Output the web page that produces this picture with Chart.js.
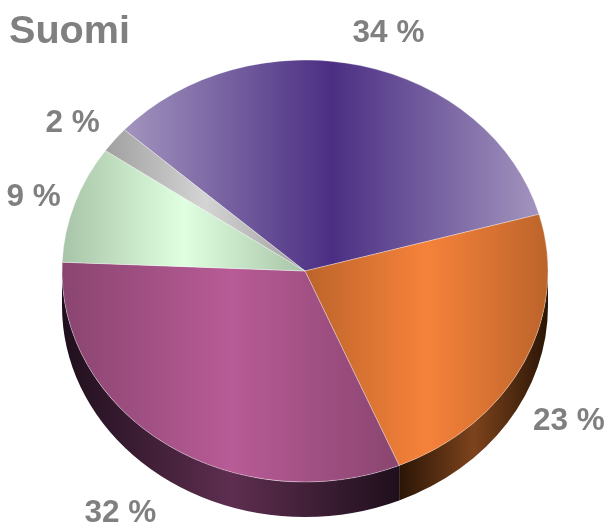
<!DOCTYPE html>
<html>
<head>
<meta charset="utf-8">
<title>Suomi</title>
<script src="https://cdn.jsdelivr.net/npm/chart.js@4"></script>
<style>
  html, body { margin: 0; padding: 0; background: white; }
  canvas { display: block; }
</style>
</head>
<body>
<canvas id="pie" width="608" height="524"></canvas>
<script>
const title_text = "Suomi"
const slices = ["Violetti", "Oranssi", "Magenta", "Vihreä", "Harmaa"]
const percents = [34, 23, 32, 9, 2]

const top_edge = ["#a294be", "#bc642b", "#8a4570", "#a8c4a8", "#a0a0a0"]
const top_mid = ["#4b2e83", "#f6823a", "#b85b96", "#e0ffe0", "#d4d4d4"]
const wall_edge = ["#000000", "#2a1506", "#1f0f1c", "#000000", "#000000"]
const wall_mid = ["#000000", "#7d431c", "#5e2e50", "#000000", "#000000"]

// ellipse look of the tilted pie
const squash = 211 / 243
const depth = 35
const label_shift = [[28, -32], [45, 58], [-46, 69], [-41, -6], [-42, -17]]
const text_color = "#808080"

function sideGradient(ctx, x0, x1, edge, mid) {
  let g = ctx.createLinearGradient(x0, 0, x1, 0)
  g.addColorStop(0, edge)
  g.addColorStop(0.5, mid)
  g.addColorStop(1, edge)
  return g
}

function sliceXRange(arc) {
  let xs = [arc.x]
  let steps = 180
  for (let i = 0; i <= steps; i++) {
    let a = arc.startAngle + (arc.endAngle - arc.startAngle) * i / steps
    xs.push(arc.x + arc.outerRadius * Math.cos(a))
  }
  return [Math.min(...xs), Math.max(...xs)]
}

function drawWall(ctx, arc, i) {
  // only the part of the rim that faces the viewer, 0..PI on canvas angles
  let a0 = Math.max(arc.startAngle, 0)
  let a1 = Math.min(arc.endAngle, Math.PI)
  if (a1 <= a0) {
    return
  }
  let r = arc.outerRadius
  let x0 = arc.x + r * Math.cos(a0)
  let x1 = arc.x + r * Math.cos(a1)
  ctx.beginPath()
  ctx.ellipse(arc.x, arc.y, r, r * squash, 0, a0, a1)
  ctx.ellipse(arc.x, arc.y + depth, r, r * squash, 0, a1, a0, true)
  ctx.closePath()
  ctx.fillStyle = sideGradient(ctx, Math.min(x0, x1), Math.max(x0, x1), wall_edge[i], wall_mid[i])
  ctx.fill()
}

const tiltPlugin = {
  id: "tilt",
  beforeDatasetsDraw(chart) {
    let ctx = chart.ctx
    let arcs = chart.getDatasetMeta(0).data
    arcs.forEach((arc, i) => {
      drawWall(ctx, arc, i)
      let range = sliceXRange(arc)
      arc.options.backgroundColor = sideGradient(ctx, range[0], range[1], top_edge[i], top_mid[i])
    })
    let cy = arcs[0].y
    ctx.save()
    ctx.translate(0, cy)
    ctx.scale(1, squash)
    ctx.translate(0, -cy)
  },
  afterDatasetsDraw(chart) {
    let ctx = chart.ctx
    ctx.restore()
    ctx.save()
    ctx.font = "bold 31.5px 'Liberation Sans'"
    ctx.fillStyle = text_color
    ctx.textAlign = "center"
    ctx.textBaseline = "middle"
    chart.getDatasetMeta(0).data.forEach((arc, i) => {
      let mid = (arc.startAngle + arc.endAngle) / 2
      let x = arc.x + arc.outerRadius * Math.cos(mid) + label_shift[i][0]
      let y = arc.y + arc.outerRadius * squash * Math.sin(mid) + label_shift[i][1]
      ctx.fillText(`${percents[i]} %`, x, y)
    })
    ctx.restore()
  }
}

new Chart(document.getElementById("pie"), {
  type: "pie",
  data: {
    labels: slices,
    datasets: [{
      data: percents,
      backgroundColor: top_mid,
      borderColor: "rgba(255,255,255,0.35)",
      borderWidth: 1,
      clip: false
    }]
  },
  options: {
    responsive: false,
    animation: false,
    rotation: -48,
    radius: 243,
    layout: {
      padding: { left: 9, right: 7, top: 0, bottom: 37.5 }
    },
    plugins: {
      legend: { display: false },
      tooltip: { enabled: false },
      title: {
        display: true,
        text: title_text,
        align: "start",
        color: text_color,
        font: { family: "'Liberation Sans'", size: 39.6, weight: "bold" },
        padding: { top: 8, bottom: 0 }
      }
    }
  },
  plugins: [tiltPlugin]
})
</script>
</body>
</html>
